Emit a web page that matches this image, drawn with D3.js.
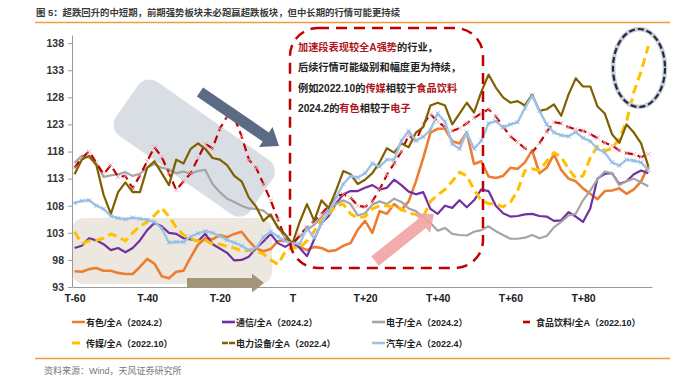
<!DOCTYPE html>
<html>
<head>
<meta charset="utf-8">
<script src="https://cdn.jsdelivr.net/npm/d3@7"></script>
<style>
  body { margin: 0; background: #fff; }
  svg { display: block; font-family: "Liberation Sans", Arial, "Noto Sans CJK SC", sans-serif; }
  .cjk { font-family: "Liberation Sans", "Noto Sans CJK SC", sans-serif; }
</style>
</head>
<body>
<script>
// 交易日相对位置：T-60 ... T+98，每两天一个点
const days = d3.range(-60, 100, 2)

const xTicks = [-60, -40, -20, 0, 20, 40, 60, 80]
const yTicks = [93, 98, 103, 108, 113, 118, 123, 128, 133, 138]

const youse = [95.9, 95.8, 96.3, 96.5, 96, 96, 95.6, 95.4, 95.4, 96.7, 98.2, 97.3, 95, 94.6, 95.8, 96, 98.5, 100.8, 102, 101.8, 102.6, 102.2, 102.8, 103.2, 101.5, 100.1, 99.6, 100, 101.5, 101.6,
  101, 100.4, 99.8, 100.4, 100.2, 99.6, 99.8, 100.6, 101.1, 103.6, 105.2, 103, 107, 106.5, 108.3, 107.2, 108.8, 112.5, 116.8, 121.5, 122.2, 122.2, 119.9, 119.5, 121.5, 115.7, 116.2, 113.4, 113.1, 113.5, 115, 114.8, 116, 118.2, 114, 115, 117.5, 114.6, 113, 112.5, 111.2, 110.2, 109.2, 110.7, 110.8, 111.2, 110.2, 111, 112.5, 115.3]

const tongxin = [100.2, 100.6, 102, 101.6, 100.9, 99.8, 100.2, 99.4, 100.2, 101.6, 103.5, 104.8, 104.2, 103, 102.8, 102, 101.8, 101.5, 102.8, 100.9, 100.1, 99.3, 97.9, 98, 98.6, 100.2, 101.4, 102.8, 101.1, 100.4,
  101.2, 100.2, 98.7, 101.8, 104.8, 106.1, 108.4, 110.1, 110.7, 110.7, 111.3, 111.8, 111, 111.3, 112.8, 111.8, 110.6, 110.1, 110.5, 107.4, 106.5, 108, 107.6, 109, 107.7, 109, 111, 110.7, 108, 106.6, 106, 106.1, 106.4, 106.5, 106.1, 106, 105.2, 105.3, 106.8, 106, 105, 107.5, 113, 113.9, 114, 112, 112.5, 113.8, 114.5, 114]

const dianzi = [115.9, 117.2, 116.9, 115.8, 113.3, 113.6, 113.8, 114.2, 113.5, 113.9, 115, 115.7, 115, 114.7, 114, 114.3, 113.9, 114.4, 114.6, 112, 110.5, 109.3, 108.7, 108, 107.5, 107.4, 107.1, 106, 104.2, 102,
  101, 102.3, 103.5, 104.5, 105.9, 107.3, 108.3, 109, 108.3, 106.2, 106.6, 108.2, 108.8, 108.3, 109.3, 108.7, 107.5, 107, 105.9, 104.8, 103.4, 103.9, 102.8, 102.6, 102.5, 103.2, 103.5, 104.2, 103.3, 102.6, 101.9, 101.9, 102.1, 102.6, 102, 102.4, 104, 105, 106.2, 106.5, 109, 110.8, 112.9, 114.3, 114, 111.8, 112.5, 113, 112.3, 111.6]

const shipin = [115, 116.8, 118, 115.9, 113.8, 115.5, 113.3, 113.5, 111.2, 113.6, 116.2, 118.8, 117, 114, 110.9, 112.5, 114, 116.8, 119.4, 118.6, 122.2, 124.5, 124.3, 120.8, 116.5, 115, 112, 109, 105.5, 102,
  100.8, 102.6, 104, 105.2, 106.5, 108, 109.8, 110.1, 109.5, 108, 107.8, 108.8, 111, 113.7, 115.8, 118, 121, 120, 123, 124.9, 123.5, 122.5, 121.8, 122.3, 123.2, 124.2, 125, 125.8, 124.5, 122.6, 120.8, 119.7, 118.6, 117.8, 119.5, 121.6, 123.4, 123.2, 122.5, 122.1, 121.8, 121.2, 120.5, 119.6, 119.1, 118.2, 117.7, 117.5, 117, 117.5]

const chuanmei = [103.2, 101, 101.5, 101.6, 102, 102.8, 102.3, 101.5, 103, 104.2, 105, 106.2, 107.6, 106, 104, 102.6, 101.9, 101.5, 101.6, 100.9, 100.9, 100.5, 100.2, 99.6, 99.8, 99.6, 99.1, 98, 97.2, 99.5,
  100.3, 100.2, 101.5, 103.3, 105.3, 106.5, 108, 108.3, 106.5, 105.7, 106, 107.4, 108, 108, 107.8, 107.4, 106.6, 106.4, 105.9, 108.8, 110, 111, 112.5, 114.2, 113.5, 111, 109, 108.4, 108.3, 107.8, 108.6, 110.8, 114.5, 114.8, 114.5, 116.2, 117.8, 117, 114.8, 113.1, 113.5, 116.8, 119, 118.2, 118.5, 120.5, 123.6, 129, 132.8, 137.5]

const dianli = [113.8, 116.5, 117.2, 115.5, 110, 106.5, 110.5, 112.3, 110.5, 110.5, 115, 116.2, 114, 111.8, 116.5, 115.8, 118.5, 119.5, 118.5, 116.8, 116.5, 115.5, 113.5, 112.5, 109.5, 107.8, 105.2, 106.4, 103.9, 102.7,
  101, 105, 108.3, 105.2, 109, 107.5, 110.8, 114.4, 113.8, 112, 112.8, 114, 116, 118.6, 117.8, 119.5, 118.8, 121.5, 122.5, 126.5, 127, 126.5, 123, 125, 127, 125.2, 129, 132.2, 129.8, 128, 127, 127.3, 126.5, 128.5, 125.5, 125.8, 126.7, 124.6, 128.5, 131.5, 130, 130, 126.3, 125, 121.2, 119.6, 123, 121.5, 119.5, 115.2]

const qiche = [108.5, 108.9, 109, 108, 107.4, 106.1, 105.7, 105.5, 105.8, 105.6, 105.4, 105, 103.8, 101.2, 101.3, 101.3, 102.3, 102.9, 103.3, 103, 102.4, 101.7, 101.2, 100.6, 99.8, 100.2, 102.2, 103.2, 102.3, 101.5,
  101, 101, 103.9, 102, 104.8, 106.8, 109.5, 112, 113.5, 113.2, 114, 115.8, 115.2, 116.5, 116.5, 120, 121.8, 120, 120.7, 122, 125, 123.5, 119.4, 118.5, 121.5, 118.5, 120, 123.2, 123.6, 122.4, 123, 123.4, 126, 128.3, 125.5, 123, 121.5, 121, 120.8, 121.6, 120.5, 119.9, 118.5, 117.8, 116, 115.4, 116.5, 116.3, 116, 114.6]

const series = [
  {name: "有色/全A（2024.2）", values: youse, color: "#ED7D31", w: 2.6},
  {name: "通信/全A（2024.2）", values: tongxin, color: "#7030A0", w: 2.2},
  {name: "电子/全A（2024.2）", values: dianzi, color: "#A5A5A5", w: 2.2},
  {name: "食品饮料/全A（2022.10）", values: shipin, color: "#C00000", w: 2.2, dash: "8,5", marker: "#EBA3AA"},
  {name: "传媒/全A（2022.10）", values: chuanmei, color: "#FFC000", w: 3, dash: "9,5"},
  {name: "电力设备/全A（2022.4）", values: dianli, color: "#7F6000", w: 2.2},
  {name: "汽车/全A（2022.4）", values: qiche, color: "#9DC3E6", w: 2.4, marker: "#8DB6DE"}
]

const width = 699
const height = 386

const svg = d3.select('body').append('svg')
    .attr('width', width)
    .attr('height', height)

const x = d3.scaleLinear().domain([-60.7, 99]).range([72, 652])
const y = d3.scaleLinear().domain([93, 139.5]).range([287, 35])

// 标题
svg.append('text')
    .attr('class', 'cjk')
    .attr('x', 36).attr('y', 16)
    .attr('font-size', 9.4).attr('font-weight', 'bold').attr('fill', '#3a3a3a')
    .text('图 5：超跌回升的中短期，前期强势板块未必跑赢超跌板块，但中长期的行情可能更持续')

svg.append('line')
    .attr('x1', 35).attr('x2', 670).attr('y1', 22.5).attr('y2', 22.5)
    .attr('stroke', '#F39A3C').attr('stroke-width', 1.5)

// 背景区块
svg.append('rect')
    .attr('transform', 'translate(146,74) rotate(35)')
    .attr('width', 164).attr('height', 66).attr('rx', 14)
    .attr('fill', '#CBD0DA').attr('opacity', 0.72)

svg.append('rect')
    .attr('x', 72).attr('y', 218).attr('width', 200).attr('height', 66).attr('rx', 12)
    .attr('fill', '#E6E0D4').attr('opacity', 0.75)

// 坐标轴
const yAxis = svg.append('g')
    .attr('transform', 'translate(72,0)')
    .call(d3.axisLeft(y).tickValues(yTicks).tickSize(4).tickSizeOuter(0).tickPadding(4))
yAxis.select('.domain').attr('stroke', '#9a9a9a')
yAxis.selectAll('line').attr('stroke', '#9a9a9a')
yAxis.selectAll('text').attr('font-size', 10.5).attr('font-weight', 'bold').attr('fill', '#333')
    .attr('font-family', 'Liberation Sans, Arial')

const xAxis = svg.append('g')
    .attr('transform', 'translate(0,287)')
    .call(d3.axisBottom(x).tickValues(xTicks).tickSize(0).tickSizeOuter(0).tickPadding(8)
        .tickFormat(d => d === 0 ? 'T' : d < 0 ? `T${d}` : `T+${d}`))
xAxis.select('.domain').attr('stroke', '#9a9a9a')
xAxis.selectAll('text').attr('font-size', 10.5).attr('font-weight', 'bold').attr('fill', '#222')
    .attr('font-family', 'Liberation Sans, Arial')

// 折线
const line = d3.line().x((d, i) => x(days[i])).y(d => y(d))

const lines = svg.append('g')
series.forEach(s => {
    lines.append('path')
        .datum(s.values)
        .attr('d', line)
        .attr('fill', 'none')
        .attr('stroke', s.color)
        .attr('stroke-width', s.w)
        .attr('stroke-linejoin', 'round')
        .attr('stroke-dasharray', s.dash || null)
    if (s.marker) {
        lines.append('g').selectAll('path')
            .data(s.values)
            .enter().append('path')
            .attr('d', (d, i) => {
                const cx = x(days[i]), cy = y(d), r = 2.2
                return `M${cx - r},${cy - r}L${cx + r},${cy + r}M${cx - r},${cy + r}L${cx + r},${cy - r}`
            })
            .attr('stroke', s.marker).attr('stroke-width', 0.9).attr('fill', 'none')
    }
})

// 标注：箭头
const arrow = (x1, y1, x2, y2, bw, hw, hl, fill, op) => {
    const L = Math.hypot(x2 - x1, y2 - y1)
    const a = Math.atan2(y2 - y1, x2 - x1) * 180 / Math.PI
    const pts = [[0, -bw / 2], [L - hl, -bw / 2], [L - hl, -hw / 2], [L, 0], [L - hl, hw / 2], [L - hl, bw / 2], [0, bw / 2]]
    svg.append('polygon')
        .attr('points', pts.map(p => p.join(',')).join(' '))
        .attr('transform', `translate(${x1},${y1}) rotate(${a})`)
        .attr('fill', fill).attr('opacity', op)
}
arrow(200, 92, 279, 146, 11, 24, 16, '#5B6B86', 1)
arrow(187, 283, 264, 283, 10, 19, 12, '#A3957A', 1)
arrow(375, 261, 434, 214, 12, 25, 15, '#F2A3A3', 0.9)

// 红色虚线框
svg.append('rect')
    .attr('x', 290).attr('y', 28).attr('width', 193).attr('height', 240).attr('rx', 28)
    .attr('fill', 'none').attr('stroke', '#C00000').attr('stroke-width', 2.5)
    .attr('stroke-dasharray', '11,7')

// 右上角椭圆
svg.append('ellipse')
    .attr('cx', 639).attr('cy', 68).attr('rx', 26).attr('ry', 39)
    .attr('fill', 'none').attr('stroke', '#C9CDD3').attr('stroke-width', 4.5)
svg.append('ellipse')
    .attr('cx', 639).attr('cy', 68).attr('rx', 26).attr('ry', 39)
    .attr('fill', 'none').attr('stroke', '#1F2B47').attr('stroke-width', 2.2)
    .attr('stroke-dasharray', '6,3')

// 框内文字
const noteLines = [
    [['加速段表现较全A强势', 1], ['的行业，', 0]],
    [['后续行情可能级别和幅度更为持续，', 0]],
    [['例如2022.10的', 0], ['传媒', 1], ['相较于', 0], ['食品饮料', 1]],
    [['2024.2的', 0], ['有色', 1], ['相较于', 0], ['电子', 1]]
]
const note = svg.append('text')
    .attr('class', 'cjk')
    .attr('font-size', 10.2).attr('font-weight', 'bold')
noteLines.forEach((parts, i) => {
    parts.forEach((p, j) => {
        const t = note.append('tspan').text(p[0]).attr('fill', p[1] ? '#B0151B' : '#222')
        if (j === 0) t.attr('x', 298).attr('y', 51 + i * 20.3)
    })
})

// 图例
const legendItems = [
    {i: 0, x: 72, y: 322, sw: 13},
    {i: 1, x: 222, y: 322, sw: 13},
    {i: 2, x: 372, y: 322, sw: 13},
    {i: 3, x: 523, y: 322, sw: 7, gap: 13},
    {i: 4, x: 72, y: 343, sw: 8, gap: 14},
    {i: 5, x: 222, y: 343, sw: 14},
    {i: 6, x: 372, y: 343, sw: 13}
]
const legend = svg.append('g')
legendItems.forEach(l => {
    const s = series[l.i]
    legend.append('line')
        .attr('x1', l.x).attr('x2', l.x + l.sw).attr('y1', l.y).attr('y2', l.y)
        .attr('stroke', s.color).attr('stroke-width', l.i === 4 ? 3 : 2.6)
        .attr('stroke-dasharray', l.i === 5 ? '6,1' : null)
    legend.append('text')
        .attr('class', 'cjk')
        .attr('x', l.x + (l.gap || 14)).attr('y', l.y + 3.5)
        .attr('font-size', 9).attr('font-weight', 'bold').attr('fill', '#222')
        .text(s.name)
})

// 底部
svg.append('line')
    .attr('x1', 35).attr('x2', 670).attr('y1', 358.5).attr('y2', 358.5)
    .attr('stroke', '#F39A3C').attr('stroke-width', 1.5)
svg.append('text')
    .attr('class', 'cjk')
    .attr('x', 44).attr('y', 374)
    .attr('font-size', 9).attr('fill', '#777')
    .text('资料来源：Wind，天风证券研究所')
</script>
</body>
</html>
